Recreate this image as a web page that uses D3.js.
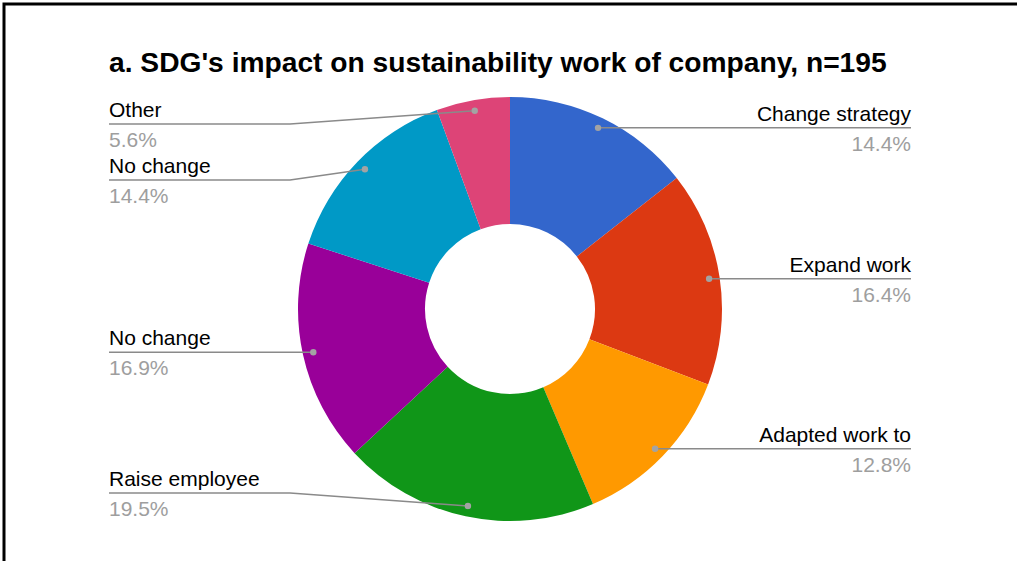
<!DOCTYPE html>
<html>
<head>
<meta charset="utf-8">
<script src="https://cdn.jsdelivr.net/npm/d3@7"></script>
<style>
  html, body { margin: 0; padding: 0; background: #fff; }
  svg { display: block; font-family: "Liberation Sans", Arial, sans-serif; }
</style>
</head>
<body>
<svg id="chart" width="1017" height="561"></svg>
<script>
// Survey answers, in drawing order (clockwise from 12 o'clock)
const categories = ["Change strategy", "Expand work", "Adapted work to", "Raise employee", "No change", "No change", "Other"];
const shares = [14.4, 16.4, 12.8, 19.5, 16.9, 14.4, 5.6];
const colors = ["#3366cc", "#dc3912", "#ff9900", "#109618", "#990099", "#0099c6", "#dd4477"];
const title = "a. SDG's impact on sustainability work of company, n=195";

const W = 1017, H = 561;
const svg = d3.select("#chart");

// Frame
svg.append("rect")
  .attr("x", 4).attr("y", 4)
  .attr("width", W + 20).attr("height", H + 20)
  .attr("fill", "#fff").attr("stroke", "#000").attr("stroke-width", 3);

svg.append("text")
  .attr("x", 109).attr("y", 72)
  .attr("font-size", 28.2).attr("font-weight", "bold").attr("fill", "#000")
  .text(title);

const cx = 510, cy = 309, R = 212, r0 = 85;
const g = svg.append("g").attr("transform", `translate(${cx},${cy})`);

const data = categories.map((c, i) => ({ name: c, value: shares[i], color: colors[i] }));
const pie = d3.pie().value(d => d.value).sort(null);
const arcs = pie(data);
const arc = d3.arc().innerRadius(r0).outerRadius(R);

g.selectAll("path.slice").data(arcs).join("path")
  .attr("class", "slice")
  .attr("d", arc)
  .attr("fill", d => d.data.color);

// Leader anchors on the slices
const dotR = R * 0.95;
const labels = arcs.map(a => {
  const mid = (a.startAngle + a.endAngle) / 2;
  const x = Math.sin(mid) * dotR, y = -Math.cos(mid) * dotR;
  return { a, x, y, side: mid < Math.PI ? "right" : "left", ly: cy + y };
});

// Keep labels apart vertically and inside the plot band
const minY = 124, maxY = 493, gap = 56;
["left", "right"].forEach(side => {
  const grp = labels.filter(l => l.side === side).sort((p, q) => p.ly - q.ly);
  grp.forEach((l, i) => {
    l.ly = Math.max(l.ly, minY);
    if (i > 0) l.ly = Math.max(l.ly, grp[i - 1].ly + gap);
  });
  for (let i = grp.length - 1; i >= 0; i--) {
    grp[i].ly = Math.min(grp[i].ly, maxY);
    if (i < grp.length - 1) grp[i].ly = Math.min(grp[i].ly, grp[i + 1].ly - gap);
  }
});

const leftX = 109, rightX = 911, bend = R + 8;
const lg = svg.append("g");
labels.forEach(l => {
  const dx = cx + l.x, dy = cy + l.y;
  const isR = l.side === "right";
  const bx = isR ? cx + bend : cx - bend;
  const ex = isR ? rightX : leftX;
  lg.append("path")
    .attr("d", d3.line()([[dx, dy], [bx, l.ly], [ex, l.ly]]))
    .attr("fill", "none").attr("stroke", "#8a8a8a").attr("stroke-width", 1.5);
  lg.append("circle")
    .attr("cx", dx).attr("cy", dy).attr("r", 3.2)
    .attr("fill", "#a3a3a3");
  lg.append("text")
    .attr("x", ex).attr("y", l.ly - 7)
    .attr("text-anchor", isR ? "end" : "start")
    .attr("font-size", 21).attr("fill", "#000")
    .text(l.a.data.name);
  lg.append("text")
    .attr("x", ex).attr("y", l.ly + 23)
    .attr("text-anchor", isR ? "end" : "start")
    .attr("font-size", 21).attr("fill", "#9e9e9e")
    .text(d3.format(".1f")(l.a.data.value) + "%");
});
</script>
</body>
</html>
